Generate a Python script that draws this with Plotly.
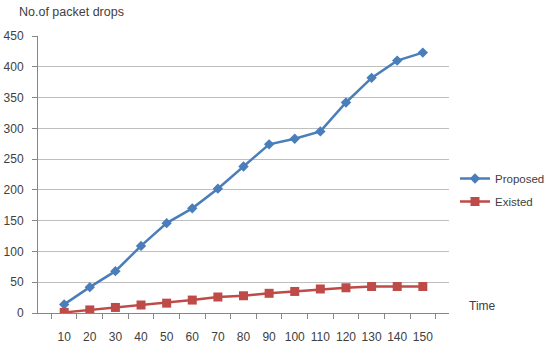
import plotly.graph_objects as go

time = [10, 20, 30, 40, 50, 60, 70, 80, 90, 100, 110, 120, 130, 140, 150]
proposed = [14, 42, 68, 109, 146, 170, 202, 238, 274, 283, 295, 342, 382, 410, 423]
existed = [1, 5, 9, 13, 16, 21, 26, 28, 32, 35, 39, 41, 43, 43, 43]
y_ticks = [0, 50, 100, 150, 200, 250, 300, 350, 400, 450]

cats = [str(t) for t in time]
txt = "#404040"
axis_grey = "#868686"
font = dict(family="Liberation Sans, Arial, sans-serif", size=12, color=txt)
W, H = 547, 343

fig = go.Figure()
fig.add_trace(go.Scatter(
    x=cats, y=proposed, name="Proposed", mode="lines+markers", legendgroup="p",
    line=dict(color="#4a7ebb", width=2.5),
    marker=dict(symbol="diamond", size=8, color="#4a7ebb"),
))
fig.add_trace(go.Scatter(
    x=cats, y=existed, name="Existed", mode="lines+markers", legendgroup="e",
    line=dict(color="#be4b48", width=2.5),
    marker=dict(symbol="square", size=9, color="#be4b48"),
))

fig.update_layout(
    width=W, height=H,
    margin=dict(l=38, r=98, t=36, b=30, autoexpand=False),
    paper_bgcolor="white", plot_bgcolor="white",
    font=font,
    showlegend=True,
    legend=dict(x=455 / W, y=1 - 190 / H, xref="container", yref="container",
                xanchor="left", yanchor="middle", traceorder="grouped",
                tracegroupgap=4, font=dict(size=11.5, color=txt),
                bgcolor="rgba(0,0,0,0)", itemwidth=30),
    xaxis=dict(
        type="category", tickson="boundaries", ticks="outside", ticklen=5,
        tickangle=0, tickcolor=axis_grey, showline=True, linecolor=axis_grey,
        linewidth=1, showgrid=False, automargin=False, ticklabelstandoff=13,
        tickfont=dict(size=12, color=txt),
    ),
    yaxis=dict(
        range=[0, 450], tickvals=y_ticks, ticks="outside", ticklen=5,
        tickcolor=axis_grey, showline=True, linecolor=axis_grey, linewidth=1,
        showgrid=True, gridcolor="#bfbfbf", gridwidth=1, zeroline=False,
        automargin=False, ticklabelstandoff=6,
        tickfont=dict(size=12, color=txt),
    ),
    annotations=[
        dict(text="No.of packet drops", x=-0.05, y=1.085, xref="paper", yref="paper",
             xanchor="left", yanchor="middle",
             showarrow=False, font=dict(size=12.5, color=txt)),
        dict(text="Time", x=1.045, y=0.0, xref="paper", yref="paper",
             xanchor="left", yanchor="bottom", yshift=-2,
             showarrow=False, font=dict(size=12, color=txt)),
    ],
)

fig.write_html("out.html")
